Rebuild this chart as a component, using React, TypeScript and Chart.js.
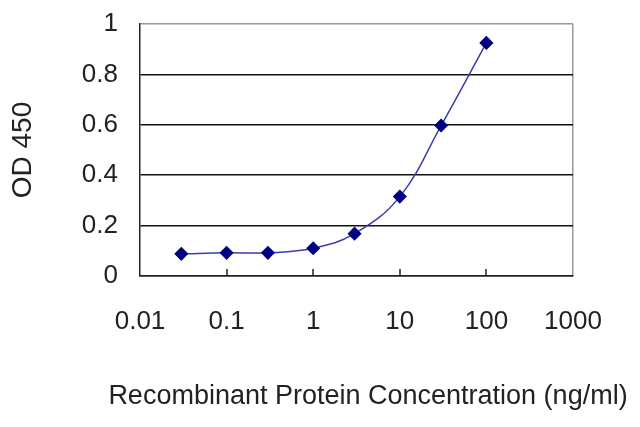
import { useEffect, useRef } from "react";
import Chart from "chart.js/auto";

// concentration (ng/ml) and OD 450 readings
const concentrations = [0.03, 0.1, 0.3, 1, 3, 10, 30, 100];
const od450 = [0.088, 0.092, 0.092, 0.11, 0.168, 0.315, 0.597, 0.925];

const xTickValues = [0.01, 0.1, 1, 10, 100, 1000];
const xTickLabels = ["0.01", "0.1", "1", "10", "100", "1000"];

const xTitle = "Recombinant Protein Concentration (ng/ml)";
const yTitle = "OD 450";

const FONT = "'Liberation Sans', Arial, sans-serif";
const TEXT = "#222";

// small inward tick marks on the x axis at each decade, plus the x title
const extras = {
  id: "extras",
  afterDatasetsDraw(chart: Chart) {
    const x = chart.scales.x;
    const bottom = chart.chartArea.bottom;
    const ctx = chart.ctx;
    ctx.save();
    ctx.strokeStyle = "#222";
    ctx.lineWidth = 1.5;
    xTickValues.slice(1, -1).forEach((v) => {
      const px = Math.round(x.getPixelForValue(v));
      ctx.beginPath();
      ctx.moveTo(px, bottom);
      ctx.lineTo(px, bottom - 7);
      ctx.stroke();
    });
    ctx.fillStyle = TEXT;
    ctx.font = `27px ${FONT}`;
    ctx.textAlign = "center";
    ctx.textBaseline = "middle";
    ctx.fillText(xTitle, 368, 397);
    ctx.restore();
  },
};

export default function App() {
  const ref = useRef<HTMLCanvasElement | null>(null);

  useEffect(() => {
    if (!ref.current) return;
    const chart = new Chart(ref.current, {
      type: "line",
      data: {
        datasets: [
          {
            data: concentrations.map((c, i) => ({ x: c, y: od450[i] })),
            borderColor: "#3c3cb0",
            borderWidth: 1.5,
            backgroundColor: "#000080",
            pointBackgroundColor: "#000080",
            pointBorderColor: "#000080",
            pointStyle: "rectRot",
            pointRadius: 6,
            tension: 0.4,
            fill: false,
          },
        ],
      },
      options: {
        responsive: false,
        animation: false,
        layout: { padding: { left: 0, top: 24, right: 67, bottom: 0 } },
        plugins: {
          legend: { display: false },
          tooltip: { enabled: false },
        },
        scales: {
          x: {
            type: "logarithmic",
            min: 0.01,
            max: 1000,
            afterBuildTicks: (scale: any) => {
              scale.ticks = xTickValues.map((v) => ({ value: v }));
            },
            afterFit: (scale: any) => {
              scale.height = 151;
              scale.paddingLeft = 0;
              scale.paddingRight = 0;
            },
            ticks: {
              autoSkip: false,
              maxRotation: 0,
              padding: 30,
              color: TEXT,
              font: { family: FONT, size: 26 },
              callback: (_v: any, i: number) => xTickLabels[i],
            },
            grid: {
              drawTicks: false,
              lineWidth: 1.5,
              color: (c: any) => (c.tick && c.tick.value === 1000 ? "#999" : "rgba(0,0,0,0)"),
            },
            border: { display: true, color: "#222", width: 1.5 },
          },
          y: {
            min: 0,
            max: 1,
            afterFit: (scale: any) => {
              scale.width = 140;
              scale.paddingTop = 0;
              scale.paddingBottom = 0;
            },
            ticks: {
              stepSize: 0.2,
              padding: 22,
              color: TEXT,
              font: { family: FONT, size: 26 },
              callback: (v: any) => String(+Number(v).toFixed(1)),
            },
            grid: {
              drawTicks: false,
              lineWidth: 1.5,
              color: (c: any) => (c.tick && c.tick.value === 1 ? "#999" : "#111"),
            },
            border: { display: true, color: "#222", width: 1.5 },
            title: {
              display: true,
              text: yTitle,
              color: TEXT,
              font: { family: FONT, size: 28 },
              padding: { top: 6, bottom: 0 },
            },
          },
        },
      },
      plugins: [extras],
    });
    return () => {
      chart.destroy();
    };
  }, []);

  return (
    <div style={{ position: "absolute", left: 0, top: 0, width: 640, height: 427, background: "#fff" }}>
      <canvas ref={ref} width={640} height={427} />
    </div>
  );
}
